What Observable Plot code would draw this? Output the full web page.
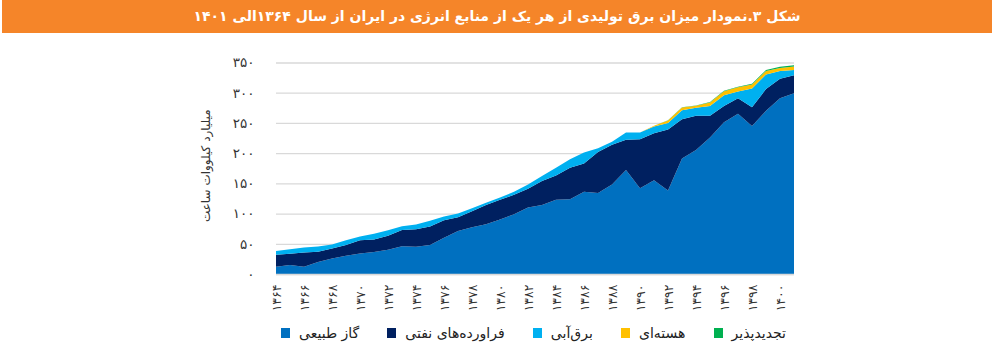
<!DOCTYPE html>
<html><head><meta charset="utf-8">
<script src="https://cdn.jsdelivr.net/npm/d3@7"></script>
<script src="https://cdn.jsdelivr.net/npm/@observablehq/plot@0.6"></script>
<style>
html,body{margin:0;padding:0;background:#fff;}
#wrap{position:relative;width:994px;height:353px;overflow:hidden;font-family:"DejaVu Sans",sans-serif;}
#title{position:absolute;left:2px;top:0;width:990px;height:33px;background:#F58529;color:#fff;
 font-weight:bold;font-size:14px;line-height:33px;text-align:center;direction:rtl;}
#chart{position:absolute;left:0;top:33px;}
#legend{position:absolute;left:281px;top:322px;width:505px;height:22px;display:flex;direction:rtl;
 justify-content:space-between;align-items:center;font-size:14px;color:#222;}
#legend .it{display:flex;align-items:center;gap:9px;}
#legend .sw{width:9px;height:10px;display:inline-block;}
</style></head>
<body><div id="wrap"><div id="title"></div><div id="chart"></div><div id="legend"></div></div>
<script>
const titleText = "شکل ۳.نمودار میزان برق تولیدی از هر یک از منابع انرژی در ایران از سال ۱۳۶۴الی ۱۴۰۱";
const yTitle = "میلیارد کیلووات ساعت";
const years = [1364,1365,1366,1367,1368,1369,1370,1371,1372,1373,1374,1375,1376,1377,1378,1379,1380,1381,1382,1383,1384,1385,1386,1387,1388,1389,1390,1391,1392,1393,1394,1395,1396,1397,1398,1399,1400,1401];
const sources = ["گاز طبیعی","فراورده‌های نفتی","برق‌آبی","هسته‌ای","تجدیدپذیر"];
const colors = ["#0070C0","#002060","#00B0F0","#FFC000","#00B050"];
const gas = [12,15,12,20,25.5,30,34,36.5,40,46,45,48,60,71,77.5,82.5,90,99,110,114,123,123.5,136,134,148,172,142,155,138,191,205,226,251,265,245,270,291,299];
const oil = [20,18.5,23.5,17,16.5,18,22,20.5,23.5,27,29,30.5,29,23,26.5,31.5,33,32,31,40,40,52.5,47,68,66,50,81,78,101,65,57,36,27,26,31,36,32,30];
const hydro = [6,7.5,8.5,8.5,7,8,6,9.5,9,6,8,9.5,6,6,5,4,3.5,5,7,8,13,14,18,6,5,12,11,11,11,15,13,16,18,11,31,24,13,8.5];
const nuclear = [0,0,0,0,0,0,0,0,0,0,0,0,0,0,0,0,0,0,0,0,0,0,0,0,0,0,0.2,1.5,4,4.5,3.5,6,6.5,7,6.5,6,5,6];
const renewable = [0,0,0,0,0,0,0,0,0,0,0,0,0,0,0,0,0,0,0,0,0,0,0,0,0,0,0,0,0.3,0.4,0.5,0.6,0.8,1,1.2,1.5,1.8,2];
const xTicks = [1364,1366,1368,1370,1372,1374,1376,1378,1380,1382,1384,1386,1388,1390,1392,1394,1396,1398,1400];
const yTicks = [0,50,100,150,200,250,300,350];

const series = [gas, oil, hydro, nuclear, renewable];
const data = [];
series.forEach((vals, si) => vals.forEach((v, i) => data.push({year: years[i], source: sources[si], value: v})));
const fa = d => String(d).replace(/\d/g, c => "۰۱۲۳۴۵۶۷۸۹"[+c]);

document.getElementById("title").textContent = titleText;

const chart = Plot.plot({
  width: 994, height: 287,
  marginLeft: 276, marginRight: 200, marginTop: 29.5, marginBottom: 46,
  style: {fontFamily: "DejaVu Sans", fontSize: "12px", color: "#333", background: "transparent"},
  x: {domain: [1364, 1401]},
  y: {domain: [0, 350]},
  color: {domain: sources, range: colors},
  marks: [
    Plot.gridY(yTicks, {stroke: "#D9D9D9", strokeOpacity: 1, strokeWidth: 1.3}),
    Plot.areaY(data, {x: "year", y: "value", fill: "source", order: sources, curve: "linear"}),
    Plot.ruleY([0], {stroke: "#D9D9D9", strokeWidth: 1.3}),
    Plot.axisY(yTicks, {tickSize: 0, tickPadding: 22, tickFormat: fa, label: null, fontSize: 13.5}),
    Plot.axisX(xTicks, {tickSize: 0, tickPadding: 10, tickRotate: -90, tickFormat: fa, label: null, fontSize: 12.5}),
    Plot.text([yTitle], {frameAnchor: "left", textAnchor: "middle", rotate: -90, dx: -70, dy: -3, fontSize: 12, fill: "#333"})
  ]
});
document.getElementById("chart").appendChild(chart);

const lg = document.getElementById("legend");
for (let i = sources.length - 1; i >= 0; i--) {
  const it = document.createElement("div"); it.className = "it";
  const lab = document.createElement("span"); lab.textContent = sources[i];
  const sw = document.createElement("span"); sw.className = "sw"; sw.style.background = colors[i];
  it.appendChild(lab); it.appendChild(sw); lg.appendChild(it);
}
</script></body></html>
